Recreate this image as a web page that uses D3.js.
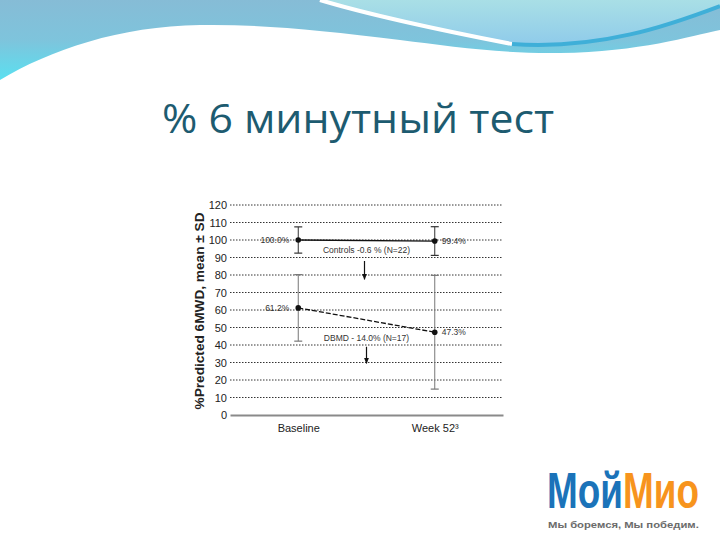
<!DOCTYPE html>
<html><head><meta charset="utf-8">
<script src="https://cdn.jsdelivr.net/npm/d3@7/dist/d3.min.js"></script>
<style>body{margin:0;background:#fff}svg{display:block}</style>
</head><body><svg id="c" width="720" height="540"></svg>
<script>
// ---- data ----
const categories = ["Baseline", "Week 52³"];
const yTicks = [0,10,20,30,40,50,60,70,80,90,100,110,120];
const controlsMean = [100.0, 99.4];
const controlsSD = [7.5, 8.2];
const controlsLabels = ["100.0%", "99.4%"];
const dmdMean = [61.2, 47.3];
const dmdSD = [19.0, 32.5];
const dmdLabels = ["61.2%", "47.3%"];
const controlsNote = "Controls -0.6 % (N=22)";
const dmdNote = "DBMD - 14.0% (N=17)";
const yLabel = "%Predicted 6MWD, mean ± SD";
const title = "% 6 минутный тест";

const svg = d3.select("#c");
const defs = svg.append("defs");

// ---- header decoration ----
const g1 = defs.append("linearGradient").attr("id","gBand").attr("x1",0).attr("y1",0).attr("x2",0).attr("y2",1);
g1.append("stop").attr("offset","0%").attr("stop-color","#86bcd6");
g1.append("stop").attr("offset","50%").attr("stop-color","#7ec4dc");
g1.append("stop").attr("offset","100%").attr("stop-color","#5ae0f0");
const g2 = defs.append("linearGradient").attr("id","gLight").attr("x1",0).attr("y1",0).attr("x2",0).attr("y2",1);
g2.append("stop").attr("offset","0%").attr("stop-color","#a9dfe6");
g2.append("stop").attr("offset","100%").attr("stop-color","#8fcbea");

const head = svg.append("g");
head.append("path")
  .attr("d","M0,0 L720,0 L720,30 C690,36 640,52 560,53 C500,54 450,46 400,40 C320,30 260,24 200,25 C120,26 50,50 0,80 Z")
  .attr("fill","url(#gBand)");
head.append("path")
  .attr("d","M320,0 C380,18 450,32 512,44 C600,50 670,25 720,6 L720,0 Z")
  .attr("fill","url(#gLight)");
head.append("path")
  .attr("d","M320,0 C380,18 450,32 512,44")
  .attr("fill","none").attr("stroke","#ffffff").attr("stroke-width",4);
head.append("path")
  .attr("d","M512,44 C600,50 670,25 720,6")
  .attr("fill","none").attr("stroke","#3fafd8").attr("stroke-width",4);

// ---- title ----
svg.append("text").attr("x",358).attr("y",133).attr("text-anchor","middle")
  .attr("font-family","'Open Sans', sans-serif").attr("font-size",40)
  .attr("textLength",392).attr("lengthAdjust","spacingAndGlyphs")
  .attr("fill","#1d5b70").text(title);

// ---- chart ----
const x = d3.scalePoint().domain(categories).range([230,503]).padding(0.5);
const y = d3.scaleLinear().domain([0,120]).range([415,205]);
const chart = svg.append("g");
const narrow = "'Liberation Sans Narrow', 'Arial Narrow', sans-serif";

// gridlines
chart.selectAll("line.grid").data(yTicks.filter(d=>d>0)).join("line")
  .attr("class","grid").attr("x1",230).attr("x2",503)
  .attr("y1",d=>y(d)).attr("y2",d=>y(d))
  .attr("stroke","#333").attr("stroke-width",1).attr("stroke-dasharray","1.5,1.5");

// y axis (labels only)
const yAxis = chart.append("g").attr("transform","translate(230,0)")
  .call(d3.axisLeft(y).tickValues(yTicks).tickSize(0).tickPadding(3));
yAxis.select(".domain").remove();
yAxis.selectAll("text").attr("font-family",narrow).attr("font-size",11).attr("fill","#222");

// x axis
const xAxis = chart.append("g").attr("transform","translate(0,415)")
  .call(d3.axisBottom(x).tickSize(0).tickPadding(9));
xAxis.select(".domain").attr("stroke","#8a8a8a").attr("stroke-width",2);
xAxis.selectAll("text").attr("font-family","'Liberation Sans', Arial, sans-serif").attr("font-size",11).attr("fill","#222");

// y label
svg.append("text").attr("transform","translate(204,311) rotate(-90)")
  .attr("text-anchor","middle").attr("font-family","'Liberation Sans', Arial, sans-serif")
  .attr("font-weight","bold").attr("font-size",12).attr("fill","#222")
  .attr("textLength",197).attr("lengthAdjust","spacingAndGlyphs").text(yLabel);

// error bars
function errBars(means, sds, color){
  const eb = chart.append("g");
  categories.forEach((c,i)=>{
    const cx = x(c), lo = y(means[i]-sds[i]), hi = y(means[i]+sds[i]);
    eb.append("line").attr("x1",cx).attr("x2",cx).attr("y1",lo).attr("y2",hi).attr("stroke",color).attr("stroke-width",1);
    [lo,hi].forEach(v=>eb.append("line").attr("x1",cx-4).attr("x2",cx+4).attr("y1",v).attr("y2",v).attr("stroke",color).attr("stroke-width",1.2));
  });
}
errBars(dmdMean, dmdSD, "#777");
errBars(controlsMean, controlsSD, "#333");

// lines
const line = d3.line().x((d,i)=>x(categories[i])).y(d=>y(d));
chart.append("path").attr("d",line(controlsMean)).attr("fill","none").attr("stroke","#111").attr("stroke-width",1.3);
chart.append("path").attr("d",line(dmdMean)).attr("fill","none").attr("stroke","#111").attr("stroke-width",1.3).attr("stroke-dasharray","5,2");

// points
[controlsMean, dmdMean].forEach(s=>{
  chart.selectAll(null).data(s).join("circle")
    .attr("cx",(d,i)=>x(categories[i])).attr("cy",d=>y(d)).attr("r",2.8).attr("fill","#111");
});

// value labels
const small = "'Liberation Sans', Arial, sans-serif";
function valLabels(means, labels){
  means.forEach((m,i)=>{
    const cx = x(categories[i]);
    chart.append("text").attr("x", i===0 ? cx-9 : cx+7).attr("y", y(m)+3)
      .attr("text-anchor", i===0 ? "end" : "start")
      .attr("font-family",small).attr("font-size",8.5).attr("fill","#333").text(labels[i]);
  });
}
valLabels(controlsMean, controlsLabels);
valLabels(dmdMean, dmdLabels);

// notes and arrows
const midX = (x(categories[0]) + x(categories[1]))/2;
defs.append("marker").attr("id","arr").attr("viewBox","0 0 10 10").attr("refX",9).attr("refY",5)
  .attr("markerWidth",5).attr("markerHeight",5).attr("orient","auto")
  .append("path").attr("d","M0,1 L10,5 L0,9 Z").attr("fill","#111");
chart.append("text").attr("x",midX).attr("y",y(92.8)).attr("text-anchor","middle")
  .attr("font-family",small).attr("font-size",8.5).attr("fill","#333").text(controlsNote);
chart.append("line").attr("x1",midX-2).attr("x2",midX-2).attr("y1",y(88)).attr("y2",y(77.5))
  .attr("stroke","#111").attr("stroke-width",1.2).attr("marker-end","url(#arr)");
chart.append("text").attr("x",midX).attr("y",y(42.5)).attr("text-anchor","middle")
  .attr("font-family",small).attr("font-size",8.5).attr("fill","#333").text(dmdNote);
chart.append("line").attr("x1",midX).attr("x2",midX).attr("y1",y(39)).attr("y2",y(29.5))
  .attr("stroke","#111").attr("stroke-width",1.2).attr("marker-end","url(#arr)");

// ---- logo (two separate words, horizontally scaled to fit the logo width) ----
const logoG = svg.append("g");
const w1 = logoG.append("text").attr("x",0).attr("y",0)
  .attr("font-family",narrow).attr("font-weight","bold").attr("font-size",50)
  .attr("fill","#1b73b9").text("Мой");
const len1 = w1.node().getComputedTextLength();
const w2 = logoG.append("text").attr("x",len1).attr("y",0)
  .attr("font-family",narrow).attr("font-weight","bold").attr("font-size",50)
  .attr("fill","#f7941d").text("Мио");
const len2 = w2.node().getComputedTextLength();
const sx = 152 / (len1 + len2);
logoG.attr("transform",`translate(547,508) scale(${sx},1)`);

const sub = svg.append("g");
const st = sub.append("text").attr("x",0).attr("y",0)
  .attr("font-family",small).attr("font-weight","bold").attr("font-size",9)
  .attr("fill","#6b6b6b").text("Мы боремся, Мы победим.");
const sl = st.node().getComputedTextLength();
sub.attr("transform",`translate(548,528) scale(${151/sl},1)`);
</script></body></html>
